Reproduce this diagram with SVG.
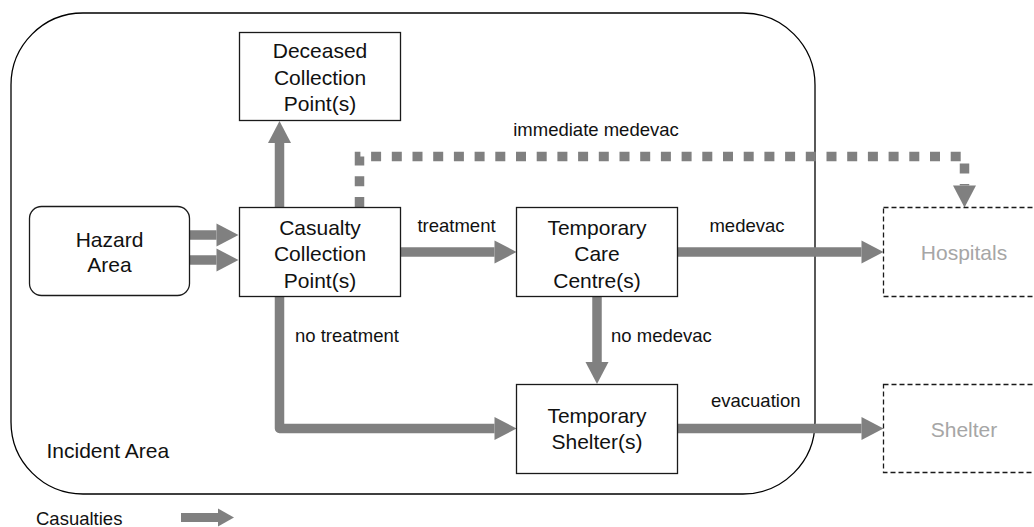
<svg xmlns="http://www.w3.org/2000/svg" width="1034" height="527" viewBox="0 0 1034 527">
  <style>
    .area { fill: #ffffff; stroke: #000000; stroke-width: 1.3; }
    .box { fill: #ffffff; stroke: #1a1a1a; stroke-width: 1.3; }
    .ext { fill: #ffffff; stroke: #1a1a1a; stroke-width: 1.3; stroke-dasharray: 5 3; }
    .node { font-family: "Liberation Sans", Arial, sans-serif; font-size: 21px; fill: #111111; text-anchor: middle; }
    .extText { font-family: "Liberation Sans", Arial, sans-serif; font-size: 21px; fill: #a6a6a6; text-anchor: middle; }
    .label { font-family: "Liberation Sans", Arial, sans-serif; font-size: 18.5px; fill: #111111; }
    .big { font-family: "Liberation Sans", Arial, sans-serif; font-size: 21px; fill: #111111; }
    .flow { fill: none; stroke: #808080; stroke-width: 9.5; marker-end: url(#head); }
    .dotted { fill: none; stroke: #808080; stroke-width: 9.5; stroke-dasharray: 10 10.7; marker-end: url(#head); }
  </style>
  <defs>
    <marker id="head" markerUnits="userSpaceOnUse" orient="auto" refX="0" refY="0" markerWidth="24" markerHeight="24" overflow="visible">
      <path d="M0,-11.5 L22,0 L0,11.5 Z" fill="#808080"/>
    </marker>
    <marker id="headSmall" markerUnits="userSpaceOnUse" orient="auto" refX="0" refY="0" markerWidth="20" markerHeight="20" overflow="visible">
      <path d="M0,-9 L16,0 L0,9 Z" fill="#808080"/>
    </marker>
  </defs>

  <!-- incident area boundary -->
  <g id="incident-area">
    <rect class="area" x="11" y="13" width="804" height="481" rx="72" ry="72"/>
    <text class="big" x="46.5" y="458">Incident Area</text>
  </g>

  <!-- connectors -->
  <g id="connectors">
    <path class="flow" d="M189.5,235 H216.5"/>
    <path class="flow" d="M189.5,260 H216.5"/>
    <path class="flow" d="M279.5,207 V143"/>
    <path class="flow" d="M400.5,252 H494.5"/>
    <path class="flow" d="M677.5,252 H861.5"/>
    <path class="flow" d="M597,297 V362"/>
    <path class="flow" stroke-linejoin="round" d="M279.5,297 V428.5 H494.5"/>
    <path class="flow" d="M677.5,428.5 H861.5"/>
    <path class="dotted" d="M359.5,207 V156.5 H964.5 V185.5"/>
    <text class="label" x="596" y="136" text-anchor="middle">immediate medevac</text>
    <text class="label" x="456.5" y="232" text-anchor="middle">treatment</text>
    <text class="label" x="747" y="232" text-anchor="middle">medevac</text>
    <text class="label" x="295" y="341.5">no treatment</text>
    <text class="label" x="611" y="341.5">no medevac</text>
    <text class="label" x="711" y="406.5">evacuation</text>
  </g>

  <g id="hazard-area">
    <rect class="box" x="29.5" y="206.5" width="160" height="89" rx="12" ry="12"/>
    <text class="node" x="109.5" y="246.5">Hazard</text>
    <text class="node" x="109.5" y="272">Area</text>
  </g>

  <g id="deceased-collection">
    <rect class="box" x="239.5" y="32.5" width="161" height="88"/>
    <text class="node" x="320" y="58">Deceased</text>
    <text class="node" x="320" y="84.5">Collection</text>
    <text class="node" x="320" y="111">Point(s)</text>
  </g>

  <g id="casualty-collection">
    <rect class="box" x="239.5" y="207.5" width="161" height="89"/>
    <text class="node" x="320" y="234.5">Casualty</text>
    <text class="node" x="320" y="261">Collection</text>
    <text class="node" x="320" y="287.5">Point(s)</text>
  </g>

  <g id="temporary-care">
    <rect class="box" x="516.5" y="207.5" width="161" height="89"/>
    <text class="node" x="597" y="234.5">Temporary</text>
    <text class="node" x="597" y="261">Care</text>
    <text class="node" x="597" y="287.5">Centre(s)</text>
  </g>

  <g id="temporary-shelter">
    <rect class="box" x="516.5" y="384.5" width="161" height="89"/>
    <text class="node" x="597" y="422.5">Temporary</text>
    <text class="node" x="597" y="449">Shelter(s)</text>
  </g>

  <g id="hospitals">
    <rect class="ext" x="883.5" y="207.5" width="170" height="89"/>
    <text class="extText" x="964" y="260">Hospitals</text>
  </g>

  <g id="shelter">
    <rect class="ext" x="883.5" y="384.5" width="170" height="88"/>
    <text class="extText" x="964" y="436.5">Shelter</text>
  </g>

  <!-- legend -->
  <g id="legend">
    <text class="label" x="36" y="524.5">Casualties</text>
    <path d="M181,517.5 H218" fill="none" stroke="#808080" stroke-width="9" marker-end="url(#headSmall)"/>
  </g>
</svg>
